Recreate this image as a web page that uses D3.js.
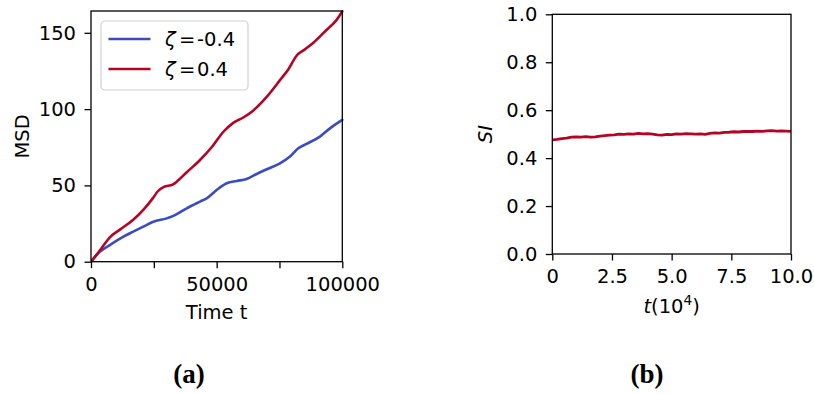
<!DOCTYPE html>
<html>
<head>
<meta charset="utf-8">
<script src="https://cdn.jsdelivr.net/npm/d3@7/dist/d3.min.js"></script>
<style>
  html, body { margin: 0; padding: 0; background: #fff; }
  svg text { font-family: "DejaVu Sans", sans-serif; fill: #000; }
</style>
</head>
<body>
<svg id="fig" width="814" height="394"></svg>
<script>
// ---- Panel (a): mean squared displacement vs time ----
const msdTimeNeg = [0, 3600, 7500, 12900, 16800, 20800, 24800, 30100, 32800, 38100, 43400, 46000, 50000, 54000, 58000, 61900, 65900, 69900, 75200, 79200, 82500, 85800, 91100, 95100, 100000];
const msdNeg     = [0, 6.6, 10.9, 16.4, 19.7, 23.0, 26.2, 28.4, 30.0, 35.0, 39.4, 41.5, 47.0, 51.4, 52.9, 54.2, 57.5, 60.6, 64.5, 68.9, 74.3, 77.2, 82.0, 87.4, 92.9];

const msdTimePos = [0, 3600, 7500, 11500, 16800, 20800, 24800, 26500, 29000, 32500, 34500, 38000, 43000, 48500, 52600, 56600, 60600, 64500, 69900, 75200, 78500, 81800, 85000, 88500, 93800, 97500, 100000];
const msdPos     = [0, 7.5, 16.0, 21.0, 27.5, 34.0, 42.0, 46.0, 49.0, 50.5, 53.0, 58.5, 66.0, 76.0, 85.0, 91.0, 94.5, 99.0, 108.0, 119.0, 126.0, 135.0, 139.0, 143.5, 152.0, 158.0, 164.0];

const msdSeriesNames = ["-0.4", "0.4"];
const msdXTicks = [0, 25000, 50000, 75000, 100000];
const msdXTickLabels = ["0", "", "50000", "", "100000"];
const msdYTicks = [0, 50, 100, 150];

// ---- Panel (b): SI vs time (units of 10^4) ----
const siTime = [0, 0.2, 0.4, 0.6, 0.8, 1.0, 1.2, 1.4, 1.6, 1.8, 2.0, 2.2, 2.4, 2.6, 2.8, 3.0, 3.2, 3.4, 3.6, 3.8, 4.0, 4.2, 4.4, 4.6, 4.8, 5.0, 5.2, 5.4, 5.6, 5.8, 6.0, 6.2, 6.4, 6.6, 6.8, 7.0, 7.2, 7.4, 7.6, 7.8, 8.0, 8.2, 8.4, 8.6, 8.8, 9.0, 9.2, 9.4, 9.6, 9.8, 10.0];
const siValues = [0.476, 0.478, 0.481, 0.483, 0.488, 0.489, 0.488, 0.490, 0.488, 0.489, 0.492, 0.494, 0.496, 0.497, 0.500, 0.499, 0.501, 0.500, 0.503, 0.501, 0.502, 0.500, 0.497, 0.496, 0.499, 0.498, 0.501, 0.500, 0.502, 0.501, 0.500, 0.501, 0.499, 0.503, 0.505, 0.504, 0.507, 0.508, 0.510, 0.509, 0.511, 0.512, 0.511, 0.513, 0.512, 0.514, 0.515, 0.513, 0.514, 0.513, 0.512];
const siXTicks = [0, 2.5, 5.0, 7.5, 10.0];
const siXTickLabels = ["0", "2.5", "5.0", "7.5", "10.0"];
const siYTicks = [0.0, 0.2, 0.4, 0.6, 0.8, 1.0];

const BLUE = "#3b4cc0";
const RED = "#b40426";
const FONT = 19.5;

const svg = d3.select("#fig");

function styleAxis(g) {
  g.select(".domain").remove();
  g.selectAll(".tick line").attr("stroke", "#000").attr("stroke-width", 1.3);
  g.selectAll(".tick text").style("font-size", FONT + "px").attr("fill", "#000");
}

function frame(x0, y0, x1, y1) {
  svg.append("rect")
    .attr("x", x0).attr("y", y0)
    .attr("width", x1 - x0).attr("height", y1 - y0)
    .attr("fill", "none").attr("stroke", "#000").attr("stroke-width", 1.3);
}

// ===== Panel (a) =====
const A = { left: 91, right: 342.3, top: 11, bottom: 261.7 };
const xA = d3.scaleLinear().domain([0, 100000]).range([A.left, A.right]);
const yA = d3.scaleLinear().domain([0, 164.3]).range([A.bottom, A.top]);

svg.append("defs").append("clipPath").attr("id", "clipA")
  .append("rect").attr("x", A.left).attr("y", A.top - 2)
  .attr("width", A.right - A.left + 2).attr("height", A.bottom - A.top + 2);

const lineA = d3.line().x(d => xA(d[0])).y(d => yA(d[1])).curve(d3.curveMonotoneX);

const seriesA = [
  { pts: d3.zip(msdTimeNeg, msdNeg), color: BLUE },
  { pts: d3.zip(msdTimePos, msdPos), color: RED }
];

svg.append("g").attr("clip-path", "url(#clipA)")
  .selectAll("path").data(seriesA).join("path")
  .attr("d", d => lineA(d.pts))
  .attr("fill", "none")
  .attr("stroke", d => d.color)
  .attr("stroke-width", 2.6)
  .attr("stroke-linejoin", "round")
  .attr("stroke-linecap", "round");

svg.append("g").attr("transform", `translate(0,${A.bottom})`)
  .call(d3.axisBottom(xA).tickValues(msdXTicks)
    .tickFormat((d, i) => msdXTickLabels[i]).tickSize(6.5).tickPadding(8.7))
  .call(styleAxis);

svg.append("g").attr("transform", `translate(${A.left},0)`)
  .call(d3.axisLeft(yA).tickValues(msdYTicks).tickFormat(d3.format("d"))
    .tickSize(6.5).tickPadding(8.5))
  .call(styleAxis);

frame(A.left, A.top, A.right, A.bottom);

svg.append("text")
  .attr("x", (A.left + A.right) / 2).attr("y", 318.5)
  .attr("text-anchor", "middle").style("font-size", FONT + "px")
  .text("Time t");

svg.append("text")
  .attr("transform", `translate(28.5,${(A.top + A.bottom) / 2}) rotate(-90)`)
  .attr("text-anchor", "middle").style("font-size", FONT + "px")
  .text("MSD");

// legend
const leg = svg.append("g");
leg.append("rect")
  .attr("x", 101).attr("y", 21).attr("width", 147).attr("height", 69)
  .attr("rx", 4).attr("ry", 4)
  .attr("fill", "#fff").attr("fill-opacity", 0.8)
  .attr("stroke", "#d0d0d0").attr("stroke-width", 1.2);

seriesA.forEach((s, i) => {
  const yy = 39 + i * 30;
  leg.append("line")
    .attr("x1", 108.5).attr("x2", 150.5).attr("y1", yy).attr("y2", yy)
    .attr("stroke", s.color).attr("stroke-width", 2.6);
  const g = leg.append("g").style("font-size", FONT + "px");
  g.append("text").attr("x", 165).attr("y", yy + 7)
    .style("font-style", "italic").text("ζ");
  g.append("text").attr("x", 179).attr("y", yy + 7).text("=");
  g.append("text").attr("x", 197).attr("y", yy + 7).text(msdSeriesNames[i]);
});

// ===== Panel (b) =====
const B = { left: 552.3, right: 791, top: 14.3, bottom: 254 };
const xB = d3.scaleLinear().domain([0, 10]).range([B.left, B.right]);
const yB = d3.scaleLinear().domain([0, 1]).range([B.bottom, B.top]);

const lineB = d3.line().x((d, i) => xB(siTime[i])).y(d => yB(d));
svg.append("path")
  .datum(siValues)
  .attr("d", lineB)
  .attr("fill", "none")
  .attr("stroke", RED)
  .attr("stroke-width", 2.8)
  .attr("stroke-linejoin", "round");

svg.append("g").attr("transform", `translate(0,${B.bottom})`)
  .call(d3.axisBottom(xB).tickValues(siXTicks)
    .tickFormat((d, i) => siXTickLabels[i]).tickSize(6.5).tickPadding(8.7))
  .call(styleAxis);

svg.append("g").attr("transform", `translate(${B.left},0)`)
  .call(d3.axisLeft(yB).tickValues(siYTicks).tickFormat(d3.format(".1f"))
    .tickSize(6.5).tickPadding(8.5))
  .call(styleAxis);

frame(B.left, B.top, B.right, B.bottom);

const tl = svg.append("text")
  .attr("x", (B.left + B.right) / 2).attr("y", 312.5)
  .attr("text-anchor", "middle").style("font-size", FONT + "px");
tl.append("tspan").style("font-style", "italic").text("t");
tl.append("tspan").text("(10");
tl.append("tspan").attr("dy", -8).style("font-size", (FONT * 0.7) + "px").text("4");
tl.append("tspan").attr("dy", 8).text(")");

svg.append("text")
  .attr("transform", `translate(492,${(B.top + B.bottom) / 2}) rotate(-90)`)
  .attr("text-anchor", "middle").style("font-size", FONT + "px")
  .style("font-style", "italic")
  .text("SI");

// ===== Sub-figure captions =====
[["(a)", 189], ["(b)", 647]].forEach(([lab, cx]) => {
  svg.append("text")
    .attr("x", cx).attr("y", 383)
    .attr("text-anchor", "middle")
    .style("font-family", "'Liberation Serif', 'DejaVu Serif', serif")
    .style("font-weight", "bold")
    .style("font-size", "27px")
    .text(lab);
});
</script>
</body>
</html>
